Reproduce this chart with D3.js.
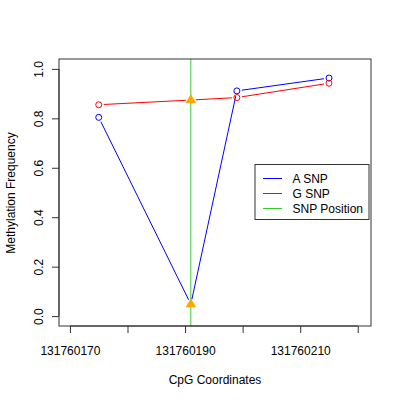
<!DOCTYPE html>
<html><head><meta charset="utf-8">
<script src="https://cdn.jsdelivr.net/npm/d3@7"></script>
<style>body{margin:0;background:#fff}svg{display:block}text{font-family:"Liberation Sans",Arial,sans-serif;font-size:12px;fill:#000}</style>
</head><body>
<script>
const positions = [131760175, 131760191, 131760199, 131760215];
const aSNP = [0.804, 0.048, 0.911, 0.963];
const gSNP = [0.855, 0.874, 0.884, 0.942];
const snpPosition = 131760191;
const xTicks = [131760170, 131760180, 131760190, 131760200, 131760210, 131760220];
const xTickLabels = ["131760170", "", "131760190", "", "131760210", ""];
const yTicks = [0, 0.2, 0.4, 0.6, 0.8, 1.0];
const legendLabels = ["A SNP", "G SNP", "SNP Position"];
const legendColors = ["#0000ff", "#ff0000", "#33cc33"];

const W = 400, H = 400;
const svg = d3.select("body").append("svg").attr("width", W).attr("height", H);
const L = 59, R = 371, T = 59, B = 326;
const x = d3.scaleLinear().domain([131760168.1, 131760222.3]).range([L, R]);
const y = d3.scaleLinear().domain([-0.04, 1.04]).range([B, T]);

// green SNP line
svg.append("line").attr("x1", x(snpPosition)).attr("x2", x(snpPosition))
  .attr("y1", T).attr("y2", B).attr("stroke", legendColors[2]).attr("stroke-width", 1);

function series(vals, color) {
  const pts = positions.map((p, i) => [x(p), y(vals[i])]);
  const gap = 5;
  for (let i = 0; i < pts.length - 1; i++) {
    const [x1, y1] = pts[i], [x2, y2] = pts[i + 1];
    const d = Math.hypot(x2 - x1, y2 - y1);
    if (d <= 2 * gap) continue;
    const ux = (x2 - x1) / d, uy = (y2 - y1) / d;
    svg.append("line")
      .attr("x1", x1 + ux * gap).attr("y1", y1 + uy * gap)
      .attr("x2", x2 - ux * gap).attr("y2", y2 - uy * gap)
      .attr("stroke", color).attr("stroke-width", 1);
  }
  pts.forEach((p, i) => {
    if (positions[i] === snpPosition) return;
    svg.append("circle").attr("cx", p[0]).attr("cy", p[1]).attr("r", 3)
      .attr("fill", "none").attr("stroke", color).attr("stroke-width", 1);
  });
}
series(aSNP, legendColors[0]);
series(gSNP, legendColors[1]);

// triangles at SNP position
const s = 3.9;
const tri = `M0,${-1.55 * s}L${1.34 * s},${0.775 * s}L${-1.34 * s},${0.775 * s}Z`;
const si = positions.indexOf(snpPosition);
[aSNP[si], gSNP[si]].forEach(v => {
  svg.append("path").attr("d", tri)
    .attr("transform", `translate(${x(snpPosition)},${y(v)})`)
    .attr("fill", "#ffa500");
});

// box
svg.append("rect").attr("x", L).attr("y", T).attr("width", R - L).attr("height", B - T)
  .attr("fill", "none").attr("stroke", "#333").attr("stroke-width", 1);

// x axis
const xa = svg.append("g").attr("transform", `translate(0,${B})`)
  .call(d3.axisBottom(x).tickValues(xTicks).tickSize(7).tickPadding(13)
    .tickFormat((d, i) => xTickLabels[i]));
xa.select(".domain").attr("d", `M${x(xTicks[0])},0H${x(xTicks[xTicks.length - 1])}`).attr("stroke", "#333");
xa.selectAll(".tick line").attr("stroke", "#333");
xa.selectAll("text").style("font-size", "12px").attr("font-family", null);

// y axis
const ya = svg.append("g").attr("transform", `translate(${L},0)`)
  .call(d3.axisLeft(y).tickValues(yTicks).tickSize(7).tickFormat(d3.format(".1f")));
ya.select(".domain").attr("d", `M0,${y(0)}V${y(1)}`).attr("stroke", "#333");
ya.selectAll(".tick line").attr("stroke", "#333");
ya.selectAll(".tick text").attr("x", null).attr("dy", null)
  .attr("text-anchor", "middle")
  .attr("transform", "translate(-20,0) rotate(-90)")
  .attr("dominant-baseline", "central")
  .style("font-size", "12px").attr("font-family", null);

// axis titles
svg.append("text").attr("x", 215).attr("y", 384).attr("text-anchor", "middle").text("CpG Coordinates");
svg.append("text").attr("transform", "translate(15,193) rotate(-90)").attr("text-anchor", "middle").text("Methylation Frequency");

// legend
const lg = svg.append("g");
lg.append("rect").attr("x", 255).attr("y", 164.5).attr("width", 114).attr("height", 55)
  .attr("fill", "#fff").attr("stroke", "#333").attr("stroke-width", 1);
legendLabels.forEach((lab, i) => {
  const yy = 178.5 + i * 15;
  lg.append("line").attr("x1", 263).attr("x2", 282).attr("y1", yy).attr("y2", yy)
    .attr("stroke", legendColors[i]).attr("stroke-width", 1);
  lg.append("text").attr("x", 292.5).attr("y", yy).attr("dominant-baseline", "central").text(lab);
});
</script>
</body></html>
